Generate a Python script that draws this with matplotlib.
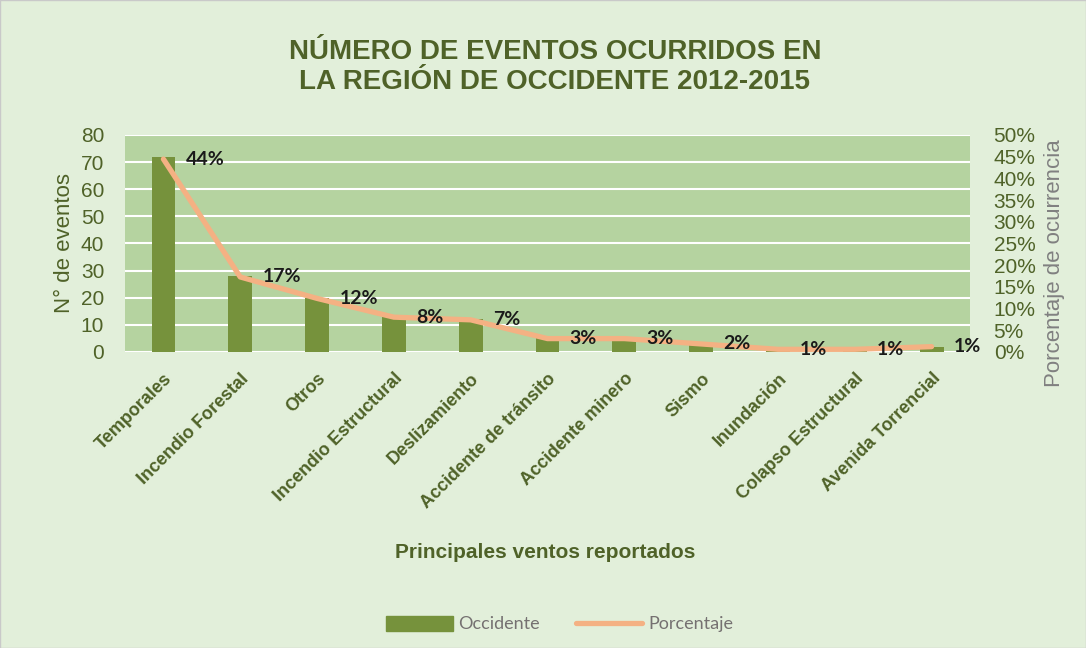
import matplotlib.pyplot as plt
import matplotlib.patches as mpatches
from matplotlib.lines import Line2D
import numpy as np

# Datos
categorias = ["Temporales", "Incendio Forestal", "Otros", "Incendio Estructural",
              "Deslizamiento", "Accidente de tránsito", "Accidente minero", "Sismo",
              "Inundación", "Colapso Estructural", "Avenida Torrencial"]
eventos = [72, 28, 20, 13, 12, 5, 5, 3, 1, 1, 2]

porcentaje = np.array(eventos) / sum(eventos)

verde = "#4F6228"
narrow = ["Liberation Sans Narrow", "Liberation Sans", "DejaVu Sans"]

fig = plt.figure(figsize=(10.86, 6.48), dpi=100)
fig.patch.set_facecolor("#E2EFDA")
fig.patches.append(mpatches.Rectangle((0, 0), 1, 1, transform=fig.transFigure,
                                      fill=False, edgecolor="#C9C9C9", lw=1))

ax = fig.add_axes([0.1151, 0.4568, 0.7781, 0.3349])
ax.set_facecolor("#B5D3A0")
x = np.arange(len(categorias))
ax.bar(x, eventos, width=0.31, color="#76923C", zorder=2)
ax.set_xlim(-0.5, len(categorias) - 0.5)
ax.set_ylim(0, 80)
ax.set_yticks(range(0, 81, 10))
ax.grid(axis="y", color="white", lw=1.5, zorder=1)
for s in ax.spines.values():
    s.set_visible(False)
ax.tick_params(axis="both", length=0)
ax.tick_params(axis="y", labelsize=15, labelcolor=verde, pad=15)
for lab in ax.get_yticklabels():
    lab.set_family(narrow)
ax.set_xticks(x)
ax.set_xticklabels(categorias, rotation=45, ha="right", rotation_mode="anchor",
                   fontsize=13, fontweight="bold", color=verde, family=narrow)
ax.tick_params(axis="x", pad=13)
ax.set_ylabel("N° de eventos", fontsize=16, color=verde, family=narrow, labelpad=4)

ax2 = ax.twinx()
ax2.plot(x, porcentaje, color="#F4B183", lw=3.8, solid_capstyle="round", zorder=3)
ax2.set_ylim(0, 0.5)
ax2.set_yticks(np.arange(0, 0.51, 0.05))
ax2.set_yticklabels([f"{int(round(v * 100))}%" for v in np.arange(0, 0.51, 0.05)],
                    family=narrow)
ax2.tick_params(axis="y", length=0, labelsize=15, labelcolor=verde, pad=17)
for s in ax2.spines.values():
    s.set_visible(False)
ax2.set_ylabel("Porcentaje de ocurrencia", fontsize=16, color="#808080",
               family=narrow, va="center")
ax2.yaxis.set_label_coords(1.1, 0.41)

for xi, p in zip(x, porcentaje):
    ax2.annotate(f"{p * 100:.0f}%", (xi, p), xytext=(16, 0), textcoords="offset points",
                 ha="left", va="center", fontsize=14, fontweight="bold",
                 color="#1A1A1A", family=["Lato", "DejaVu Sans"], clip_on=False)

fig.text(0.511, 0.897, "NÚMERO DE EVENTOS OCURRIDOS EN\nLA REGIÓN DE OCCIDENTE 2012-2015",
         ha="center", va="center", fontsize=20, fontweight="bold", color=verde,
         family=narrow, linespacing=1.2)
fig.text(0.502, 0.148, "Principales ventos reportados", ha="center", va="center",
         fontsize=15, fontweight="bold", color=verde, family=narrow)

handles = [mpatches.Patch(color="#76923C", label="Occidente"),
           Line2D([0], [0], color="#F4B183", lw=3.8, solid_capstyle="round",
                  label="Porcentaje")]
leg = fig.legend(handles=handles, loc="center", bbox_to_anchor=(0.515, 0.037), ncol=2,
                 frameon=False, handlelength=3.7, handleheight=0.9,
                 columnspacing=2.0, handletextpad=0.3,
                 prop={"family": ["Lato", "DejaVu Sans"], "size": 13})
for t in leg.get_texts():
    t.set_color("#757171")

fig.savefig("out.png", dpi=100, facecolor=fig.get_facecolor())
